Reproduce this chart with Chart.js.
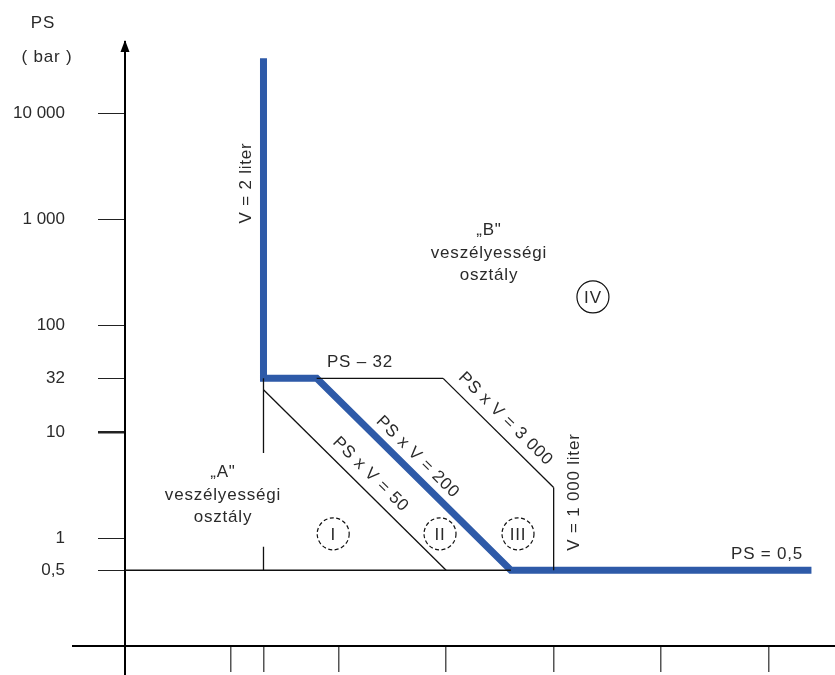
<!DOCTYPE html>
<html lang="hu">
<head>
<meta charset="utf-8">
<title>PS – V diagram</title>
<script src="https://cdn.jsdelivr.net/npm/chart.js@4/dist/chart.umd.min.js"></script>
<style>
  html, body { margin: 0; padding: 0; background: #fff; }
  #wrap { width: 835px; height: 675px; position: relative; }
</style>
</head>
<body>
<div id="wrap"><canvas id="chart"></canvas></div>
<script>
// axis ranges (V in liter, PS in bar), both logarithmic
const vMin = 0.103, vMax = 414000;
const psMin = 0.0968, psMax = 46900;

const vTicks = [1, 2, 10, 100, 1000, 10000, 100000];
const psTicks = [0.5, 1, 10, 32, 100, 1000, 10000];
const psTickLabels = ['0,5', '1', '10', '32', '100', '1 000', '10 000'];

// thick blue border between class "A" and class "B"
const blueV  = [2, 2, 6.25, 400, 250000];
const bluePS = [33000, 32, 32, 0.5, 0.5];

// thin category limits
const ps05V = [vMin, 400],       ps05PS = [0.5, 0.5];
const v2UpperV = [2, 2],         v2UpperPS = [32, 6.34];
const v2LowerV = [2, 2],         v2LowerPS = [0.83, 0.5];
const pv50V = [2, 100],          pv50PS = [25, 0.5];
const ps32V = [6.25, 93.75],     ps32PS = [32, 32];
const pv3000V = [93.75, 1000],   pv3000PS = [32, 3];
const v1000V = [1000, 1000],     v1000PS = [3, 0.5];

// annotations, placed in data coordinates
const textBlocks = [
  { lines: ['PS – 32'], v: 15.8, ps: 45.6 },
  { lines: ['„A"', 'veszélyességi', 'osztály'], v: 0.84, ps: 2.55 },
  { lines: ['„B"', 'veszélyességi', 'osztály'], v: 250, ps: 484 },
  { lines: ['PS = 0,5'], v: 96600, ps: 0.71 }
];
const verticalTexts = [
  { text: 'V = 2 liter', v: 1.37, ps: 2210 },
  { text: 'V = 1 000 liter', v: 1545, ps: 2.72 }
];
const diagonalTexts = [
  { text: 'PS x V = 50', k: 50, v: 15.8 },
  { text: 'PS x V = 200', k: 200, v: 43.3 },
  { text: 'PS x V = 3 000', k: 3000, v: 285 }
];
const zoneNames = ['I', 'II', 'III', 'IV'];
const zoneV = [8.9, 87.7, 466, 2320];
const zonePS = [1.1, 1.1, 1.1, 187];

const FONT = '17px "Liberation Sans", Arial, sans-serif';
const TEXT = '#2a2a2a';

function pts(vs, ps) {
  return vs.map((v, i) => ({ x: v, y: ps[i] }));
}
function thin(vs, ps) {
  return { data: pts(vs, ps), borderColor: '#111', borderWidth: 1.3 };
}

const annotations = {
  id: 'annotations',
  afterDraw(chart) {
    const { ctx, chartArea: a } = chart;
    const x = chart.scales.x, y = chart.scales.y;
    ctx.save();

    // axis extensions and arrow
    ctx.strokeStyle = '#000';
    ctx.lineWidth = 2;
    ctx.beginPath();
    ctx.moveTo(72, a.bottom); ctx.lineTo(a.left, a.bottom);
    ctx.moveTo(a.left, a.bottom); ctx.lineTo(a.left, chart.height);
    ctx.stroke();
    ctx.fillStyle = '#000';
    ctx.beginPath();
    ctx.moveTo(a.left, a.top - 2);
    ctx.lineTo(a.left - 4.5, a.top + 10);
    ctx.lineTo(a.left + 4.5, a.top + 10);
    ctx.closePath();
    ctx.fill();

    ctx.font = FONT;
    ctx.fillStyle = TEXT;
    ctx.letterSpacing = '0.8px';
    ctx.textAlign = 'center';
    ctx.textBaseline = 'middle';

    // axis title
    ctx.fillText('PS', a.left - 82, 23);
    ctx.fillText('( bar )', a.left - 78, 57);

    textBlocks.forEach(b => {
      const px = x.getPixelForValue(b.v), py = y.getPixelForValue(b.ps);
      const lh = 22.5, top = py - (b.lines.length - 1) * lh / 2;
      b.lines.forEach((t, i) => ctx.fillText(t, px, top + i * lh));
    });

    verticalTexts.forEach(t => {
      ctx.save();
      ctx.translate(x.getPixelForValue(t.v), y.getPixelForValue(t.ps));
      ctx.rotate(-Math.PI / 2);
      ctx.fillText(t.text, 0, 0);
      ctx.restore();
    });

    diagonalTexts.forEach(t => {
      const x1 = x.getPixelForValue(t.v), y1 = y.getPixelForValue(t.k / t.v);
      const x2 = x.getPixelForValue(t.v * 10), y2 = y.getPixelForValue(t.k / t.v / 10);
      const ang = Math.atan2(y2 - y1, x2 - x1);
      ctx.save();
      ctx.translate(x1, y1);
      ctx.rotate(ang);
      ctx.fillText(t.text, 0, -15);
      ctx.restore();
    });

    // category marks in circles
    ctx.strokeStyle = '#111';
    ctx.lineWidth = 1.2;
    zoneNames.forEach((n, i) => {
      const px = x.getPixelForValue(zoneV[i]), py = y.getPixelForValue(zonePS[i]);
      ctx.setLineDash(n === 'IV' ? [] : [4, 2.5]);
      ctx.beginPath();
      ctx.arc(px, py, 16, 0, Math.PI * 2);
      ctx.stroke();
      ctx.fillText(n, px, py + 1);
    });
    ctx.restore();
  }
};

new Chart(document.getElementById('chart'), {
  type: 'scatter',
  data: {
    datasets: [
      thin(ps05V, ps05PS),
      thin(v2UpperV, v2UpperPS),
      thin(v2LowerV, v2LowerPS),
      thin(pv50V, pv50PS),
      thin(ps32V, ps32PS),
      thin(pv3000V, pv3000PS),
      thin(v1000V, v1000PS),
      { data: pts(blueV, bluePS), borderColor: '#2e5aa8', borderWidth: 7 }
    ]
  },
  options: {
    responsive: true,
    maintainAspectRatio: false,
    animation: false,
    showLine: true,
    elements: {
      point: { radius: 0, hoverRadius: 0 },
      line: { tension: 0, borderCapStyle: 'butt', borderJoinStyle: 'miter' }
    },
    layout: { padding: { top: 42, left: 0, right: 0, bottom: 0 } },
    plugins: { legend: { display: false }, tooltip: { enabled: false } },
    events: [],
    scales: {
      x: {
        type: 'logarithmic',
        min: vMin, max: vMax,
        bounds: 'data',
        afterBuildTicks: s => { s.ticks = vTicks.map(v => ({ value: v })); },
        afterFit: s => { s.height = 29; s.paddingLeft = 0; s.paddingRight = 0; },
        ticks: { display: false },
        grid: { drawOnChartArea: false, drawTicks: true, tickLength: 26, color: '#555', lineWidth: 1.5 },
        border: { display: true, color: '#000', width: 2 }
      },
      y: {
        type: 'logarithmic',
        min: psMin, max: psMax,
        bounds: 'data',
        afterBuildTicks: s => { s.ticks = psTicks.map(v => ({ value: v })); },
        afterFit: s => { s.width = 125; s.paddingTop = 0; s.paddingBottom = 0; },
        ticks: {
          autoSkip: false,
          padding: 33,
          color: TEXT,
          font: { family: '"Liberation Sans", Arial, sans-serif', size: 17 },
          callback: (val, i) => psTickLabels[i]
        },
        grid: {
          drawOnChartArea: false, drawTicks: true, tickLength: 27, color: '#222',
          lineWidth: c => (c.tick && c.tick.value === 10 ? 2.5 : 1)
        },
        border: { display: true, color: '#000', width: 2 }
      }
    }
  },
  plugins: [annotations]
});
</script>
</body>
</html>
